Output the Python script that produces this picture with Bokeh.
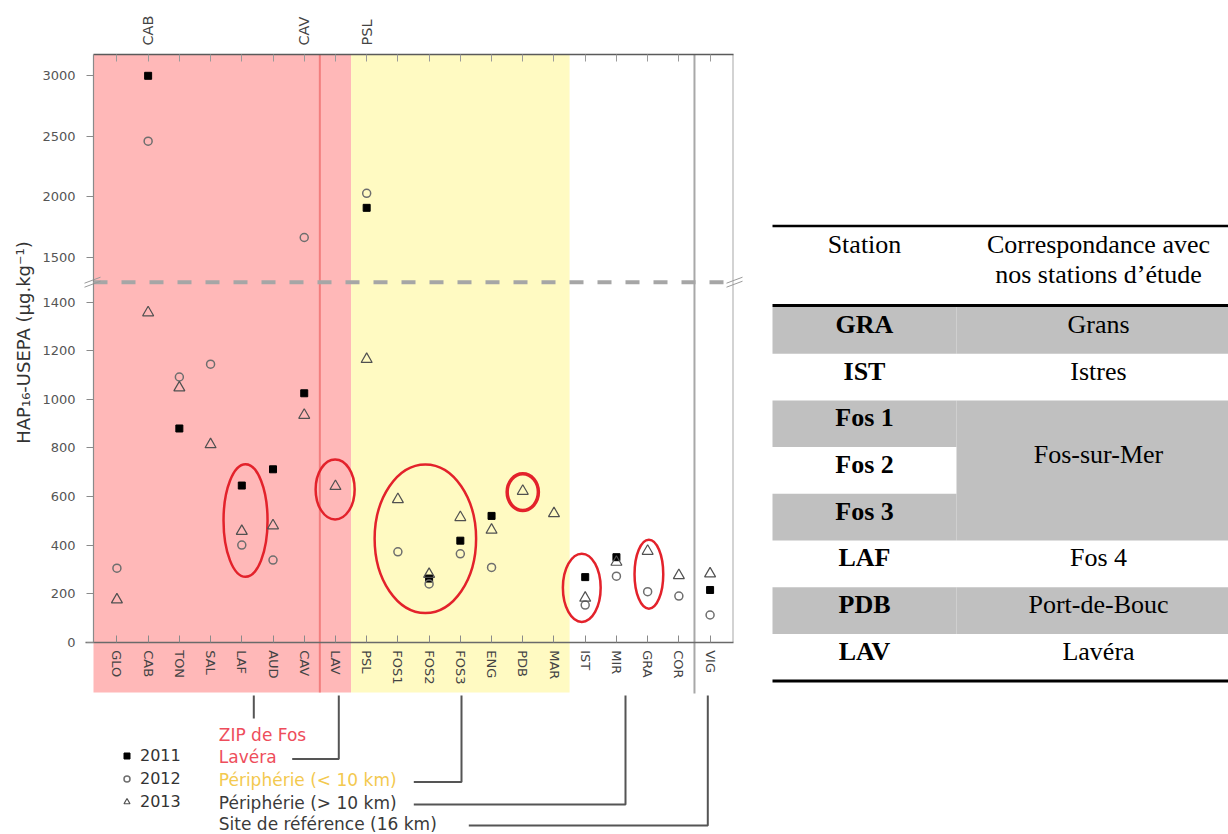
import math
from bokeh.plotting import figure
from bokeh.models import Range1d, LinearAxis, FixedTicker, Legend, LegendItem
from bokeh.layouts import row
from bokeh.core.properties import value
from bokeh.embed import file_html
from bokeh.resources import INLINE

# ---------------- data ----------------
stations = ["GLO", "CAB", "TON", "SAL", "LAF", "AUD", "CAV", "LAV", "PSL", "FOS1",
            "FOS2", "FOS3", "ENG", "PDB", "MAR", "IST", "MIR", "GRA", "COR", "VIG"]
years = ["2011", "2012", "2013"]
hap_2011 = [None, 3000, 880, None, 645, 712, 1025, None, 1910, None,
            262, 418, 520, None, None, 268, 350, None, None, 215]
hap_2012 = [305, 2460, 1092, 1145, 400, 338, 1665, None, 2030, 372,
            240, 364, 308, None, None, 153, 272, 208, 190, 112]
hap_2013 = [175, 1357, 1048, 814, 457, 480, 935, 642, 1165, 588,
            280, 514, 462, 622, 530, 182, 330, 375, 275, 282]

y_ticks_low = [0, 200, 400, 600, 800, 1000, 1200, 1400]
y_ticks_high = [1500, 2000, 2500, 3000]

zone_names = ["ZIP de Fos", "Lavéra", "Périphérie (< 10 km)",
              "Périphérie (> 10 km)", "Site de référence (16 km)"]
zone_first = ["GLO", "LAV", "PSL", "IST", "VIG"]
zone_last = ["CAV", "LAV", "MAR", "COR", "VIG"]

table_header_left = "Station"
table_header_right = ["Correspondance avec", "nos stations d’étude"]
table_station = ["GRA", "IST", "Fos 1", "Fos 2", "Fos 3", "LAF", "PDB", "LAV"]
table_match = ["Grans", "Istres", "Fos-sur-Mer", "Fos-sur-Mer", "Fos-sur-Mer",
               "Fos 4", "Port-de-Bouc", "Lavéra"]

# ---------------- layout geometry (page pixels) ----------------
OFF = 0
FIG_W, FIG_H = 768, 834
PAGE_W = 1228
PX_L, PX_R = 93.0, 733.0
X_LO, X_HI = -0.75, len(stations) - 0.25
PXU = (PX_R - PX_L) / (X_HI - X_LO)


def px2x(px):
    return X_LO + (px - PX_L) / PXU


PY_ZERO, PY_1400 = 641.7, 301.7
PYU_B = (PY_ZERO - PY_1400) / 1400.0


def yb(py):
    return (PY_ZERO - py) / PYU_B


PY_3000, PY_1500 = 75.3, 257.0
PYU_T = (PY_1500 - PY_3000) / 1500.0


def yt(py):
    return 3000 + (PY_3000 - py) / PYU_T


PY_TOP, PY_BREAK, PY_BAND = 54.0, 281.7, 692.0
BRK = yb(PY_BREAK)

FONT = "DejaVu Sans"

p = figure(width=FIG_W, height=FIG_H,
           x_range=Range1d(px2x(OFF), px2x(OFF + FIG_W)),
           y_range=Range1d(yb(OFF + FIG_H), yb(OFF)),
           x_axis_type=None, y_axis_type=None,
           output_backend="svg", toolbar_location=None,
           min_border=0, outline_line_color=None,
           background_fill_color="white", border_fill_color="white")
p.extra_y_ranges = {"top": Range1d(yt(OFF + FIG_H), yt(OFF))}

idx = {s: i for i, s in enumerate(stations)}

# background bands
band_fill = {"ZIP de Fos": "#FFB8B8", "Lavéra": "#FFB8B8", "Périphérie (< 10 km)": "#FFFAC2"}
bl, br, bc = [], [], []
for name, a, b in zip(zone_names, zone_first, zone_last):
    if name in band_fill:
        left = X_LO if idx[a] == 0 else idx[a] - 0.5
        bl.append(left)
        br.append(idx[b] + 0.5)
        bc.append(band_fill[name])
p.quad(left=bl, right=br, bottom=yb(PY_BAND), top=yb(PY_TOP),
       fill_color=bc, line_color=None)

# zone dividers
p.segment(x0=[idx["CAV"] + 0.5], y0=[yb(PY_TOP)], x1=[idx["CAV"] + 0.5], y1=[yb(PY_BAND)],
          line_color="#F27E7E", line_width=2)
p.segment(x0=[idx["COR"] + 0.5], y0=[yb(PY_TOP)], x1=[idx["COR"] + 0.5], y1=[yb(PY_BAND + 1)],
          line_color="#A8A8A8", line_width=2)
# right frame edge
p.segment(x0=[px2x(PX_R - 0.5)], y0=[yb(PY_TOP)], x1=[px2x(PX_R - 0.5)], y1=[0],
          line_color="#C4C4C4", line_width=1.5)

# axis break
p.segment(x0=[X_LO], y0=[BRK], x1=[X_HI], y1=[BRK],
          line_color="#A6A6A6", line_width=4, line_dash="14 14")
bx0, by0, bx1, by1 = [], [], [], []
for cx in (PX_L - 1, PX_R + 1):
    for d in (-2.0, 2.0):
        bx0.append(px2x(cx - 8)); by0.append(yb(PY_BREAK + 3 + d))
        bx1.append(px2x(cx + 8)); by1.append(yb(PY_BREAK - 3 + d))
p.segment(x0=bx0, y0=by0, x1=bx1, y1=by1, line_color="#9A9A9A", line_width=1)

# highlight ellipses: (station, x shift, centre value, width in stations, height in values, line width)
highlights = [("LAF", 0.12, 501, 1.41, 464, 2.5),
              ("LAV", -0.01, 629, 1.25, 247, 2.5),
              ("FOS2", -0.12, 426, 3.25, 612, 2.5),
              ("PDB", 0.0, 618, 1.0, 151, 3.5),
              ("IST", -0.11, 224, 1.21, 281, 2.5),
              ("GRA", 0.04, 280, 0.92, 284, 2.5)]
for st, dx, cy, w, h, lw in highlights:
    p.ellipse(x=[idx[st] + dx], y=[cy], width=[w], height=[h],
              fill_color=None, line_color="#E3222B", line_width=lw)

# scatter points
styles = {
    "2011": dict(marker="square", size=7, fill_color="black", line_color="black", line_width=1),
    "2012": dict(marker="circle", size=8, fill_color=None, line_color="#6E6E6E", line_width=1.5),
    "2013": dict(marker="triangle", size=11, fill_color=None, line_color="#505050", line_width=1.2),
}
series = {"2011": hap_2011, "2012": hap_2012, "2013": hap_2013}
legend_renderers = {}
top_labels = set()
for yr in years:
    vals = series[yr]
    lx = [i for i, v in enumerate(vals) if v is not None and v < BRK]
    ly = [v for v in vals if v is not None and v < BRK]
    hx = [i for i, v in enumerate(vals) if v is not None and v >= BRK]
    hy = [v for v in vals if v is not None and v >= BRK]
    for i in hx:
        top_labels.add(stations[i])
    legend_renderers[yr] = p.scatter(x=lx, y=ly, **styles[yr])
    if hx:
        p.scatter(x=hx, y=hy, y_range_name="top", **styles[yr])

# axes
ticks_x = list(range(len(stations)))
xb = LinearAxis(fixed_location=0, ticker=FixedTicker(ticks=ticks_x),
                major_label_overrides={i: s for i, s in enumerate(stations)},
                major_label_orientation="vertical",
                major_tick_in=7, major_tick_out=0, minor_tick_line_color=None,
                bounds=(px2x(85), X_HI),
                axis_line_color="#6A6A6A", axis_line_width=1.5,
                major_tick_line_color="#8A8A8A",
                major_label_standoff=8,
                major_label_text_font=FONT, major_label_text_font_size="13px",
                major_label_text_color="#444444")
p.add_layout(xb, "below")

xt = LinearAxis(fixed_location=yb(PY_TOP), ticker=FixedTicker(ticks=ticks_x),
                major_label_overrides={i: (s if s in top_labels else "") for i, s in enumerate(stations)},
                major_label_orientation="vertical",
                major_tick_in=7, major_tick_out=0, minor_tick_line_color=None,
                bounds=(X_LO, X_HI),
                axis_line_color="#5A5A5A", axis_line_width=1.5,
                major_tick_line_color="#9A9A9A",
                major_label_standoff=9,
                major_label_text_font=FONT, major_label_text_font_size="14.5px",
                major_label_text_color="#444444")
p.add_layout(xt, "above")

ylo = LinearAxis(fixed_location=X_LO, ticker=FixedTicker(ticks=y_ticks_low),
                 bounds=(-1, BRK), major_tick_out=7, major_tick_in=0,
                 minor_tick_line_color=None,
                 axis_line_color="#8A8A8A", axis_line_width=1.2,
                 major_tick_line_color="#8A8A8A",
                 major_label_standoff=11,
                 major_label_text_font=FONT, major_label_text_font_size="13px",
                 major_label_text_color="#555555")
p.add_layout(ylo, "left")
yhi = LinearAxis(fixed_location=X_LO, y_range_name="top",
                 ticker=FixedTicker(ticks=y_ticks_high),
                 bounds=(yt(PY_BREAK), yt(PY_TOP)), major_tick_out=7, major_tick_in=0,
                 minor_tick_line_color=None,
                 axis_line_color="#8A8A8A", axis_line_width=1.2,
                 major_tick_line_color="#8A8A8A",
                 major_label_standoff=11,
                 major_label_text_font=FONT, major_label_text_font_size="13px",
                 major_label_text_color="#555555")
p.add_layout(yhi, "left")

# y-axis title
p.text(x=[px2x(23)], y=[yb(342)], text=["HAP₁₆-USEPA (µg.kg⁻¹)"], angle=math.pi / 2,
       text_align="center", text_baseline="middle",
       text_font=value(FONT), text_font_size=value("18px"), text_color="#333333")

# zone labels and connectors
zone_text_color = ["#EE4D5B", "#EE4D5B", "#F3C94F", "#3A3A3A", "#3A3A3A"]
zone_row_py = [734, 756.5, 779.5, 802, 823]
zone_anchor_px = [253.3, 338.3, 461.0, 625.0, 707.3]
zone_end_px = [None, 291.7, 413.3, 413.3, 468.3]
p.text(x=[px2x(218.3)] * len(zone_names), y=[yb(v) for v in zone_row_py], text=zone_names,
       text_align="left", text_baseline="middle",
       text_font=value(FONT), text_font_size=value("17px"), text_color=zone_text_color)
cxs, cys = [], []
for ax_px, rpy, end_px in zip(zone_anchor_px, zone_row_py, zone_end_px):
    if end_px is None:
        cxs.append([px2x(ax_px), px2x(ax_px)])
        cys.append([yb(695), yb(718)])
    else:
        cxs.append([px2x(ax_px), px2x(ax_px), px2x(end_px)])
        cys.append([yb(695), yb(rpy + 2), yb(rpy + 2)])
p.multi_line(xs=cxs, ys=cys, line_color="#555555", line_width=2)

# legend
legend = Legend(items=[LegendItem(label=yr, renderers=[legend_renderers[yr]]) for yr in years],
                location=(119 - OFF, FIG_H - 811), orientation="vertical",
                background_fill_alpha=0, border_line_color=None,
                padding=0, margin=0, spacing=3,
                glyph_height=15, glyph_width=15, label_height=20, label_standoff=6,
                label_text_font=FONT, label_text_font_size="16px",
                label_text_color="#333333")
p.add_layout(legend)

# ---------------- table ----------------
TW = PAGE_W - FIG_W
T = figure(width=TW, height=FIG_H,
           x_range=Range1d(OFF + FIG_W, OFF + FIG_W + TW),
           y_range=Range1d(OFF + FIG_H, OFF),
           x_axis_type=None, y_axis_type=None,
           output_backend="svg", toolbar_location=None,
           min_border=0, outline_line_color=None,
           background_fill_color="white", border_fill_color="white")
TL, TD, TR = 772.0, 956.0, OFF + FIG_W + TW
ROW_TOP, ROW_H = 306.5, 46.7
GRAY = "#C0C0C0"
SERIF = "Liberation Serif"
n = len(table_station)

ql, qr, qt, qb = [], [], [], []
for i in range(n):
    if i % 2 == 0:
        ql.append(TL); qr.append(TD)
        qt.append(ROW_TOP + i * ROW_H); qb.append(ROW_TOP + (i + 1) * ROW_H)
groups = []
i = 0
while i < n:
    j = i
    while j + 1 < n and table_match[j + 1] == table_match[i]:
        j += 1
    groups.append((i, j, table_match[i]))
    i = j + 1
for a, b, _ in groups:
    if a % 2 == 0:
        ql.append(TD); qr.append(TR)
        qt.append(ROW_TOP + a * ROW_H); qb.append(ROW_TOP + (b + 1) * ROW_H)
T.quad(left=ql, right=qr, top=qt, bottom=qb, fill_color=GRAY, line_color=None)

T.segment(x0=[TL], y0=[225.5], x1=[TR], y1=[225.5], line_color="black", line_width=2.5)
T.segment(x0=[TL], y0=[305], x1=[TR], y1=[305], line_color="black", line_width=3)
T.segment(x0=[TL], y0=[680.5], x1=[TR], y1=[680.5], line_color="black", line_width=3)

CX_L, CX_R = 864.0, 1098.0
T.text(x=[CX_L, CX_R, CX_R], y=[244, 244, 274],
       text=[table_header_left] + table_header_right,
       text_align="center", text_baseline="middle",
       text_font=value(SERIF), text_font_size=value("26px"), text_color="black")
T.text(x=[CX_L] * n, y=[ROW_TOP + (k + 0.5) * ROW_H - 6 for k in range(n)],
       text=table_station, text_align="center", text_baseline="middle",
       text_font=value(SERIF), text_font_size=value("26px"), text_font_style="bold",
       text_color="black")
gy = []
for a, b, _ in groups:
    if a == b:
        gy.append(ROW_TOP + (a + 0.5) * ROW_H - 6)
    else:
        gy.append(ROW_TOP + (a + b + 1) / 2 * ROW_H - 16)
T.text(x=[CX_R] * len(groups), y=gy, text=[g[2] for g in groups],
       text_align="center", text_baseline="middle",
       text_font=value(SERIF), text_font_size=value("26px"), text_color="black")

layout = row(p, T)
open("out.html", "w").write(file_html(layout, INLINE))
